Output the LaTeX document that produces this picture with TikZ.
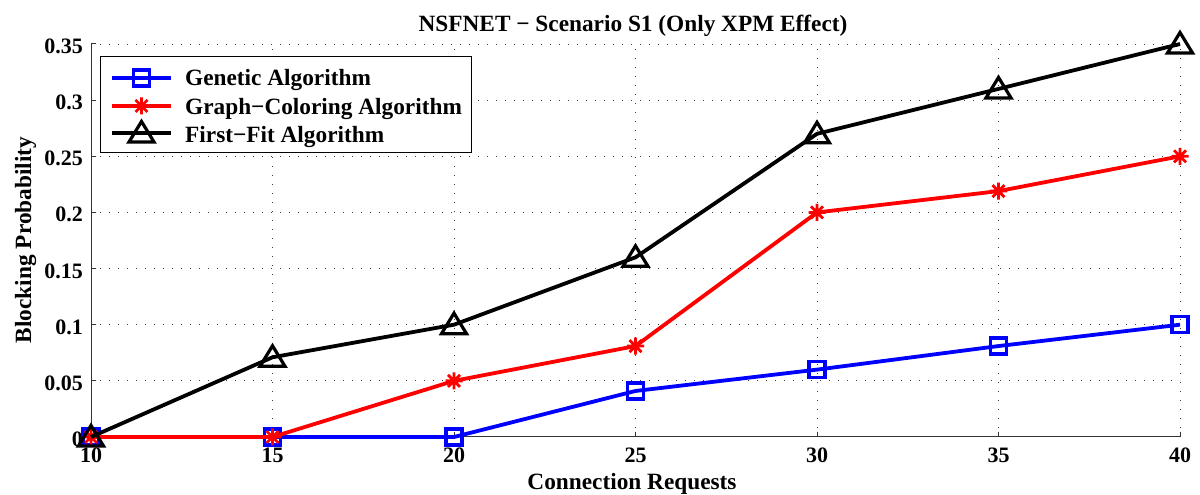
\documentclass[tikz,border=0pt]{standalone}
\usepackage{fontspec}
\setmainfont{Liberation Serif}
\begin{document}
\begin{tikzpicture}[x=1pt,y=1pt,
  lbl/.style={font=\fontsize{23.3}{23.3}\selectfont\bfseries, inner sep=0pt},
  ticklbl/.style={font=\fontsize{22}{22}\selectfont\bfseries, inner sep=0pt},
  gridline/.style={black!75, line width=0.9pt, dash pattern=on 1pt off 8pt},
  axisline/.style={black!80, line width=1pt},
  curve/.style={line width=3.8pt, line join=round},
  sqmark/.pic={\draw[blue, line width=3.2pt, fill=none] (-8pt,-8pt) rectangle (8pt,8pt);},
  astmark/.pic={\draw[red, line width=2.8pt] (-8.5pt,0pt) -- (8.5pt,0pt) (0pt,-8.5pt) -- (0pt,8.5pt)
      (-6pt,-6pt) -- (6pt,6pt) (-6pt,6pt) -- (6pt,-6pt);},
  trimark/.pic={\draw[black, line width=3.2pt, line join=miter] (-12.5pt,-9pt) -- (12.5pt,-9pt) -- (0pt,11.5pt) -- cycle;}
]
\useasboundingbox (0,0) rectangle (1200,495);
\begin{scope}[x=36.3pt, y=1122.86pt, xshift=-272pt, yshift=58pt]
  % grid
  \foreach \v in {15,20,...,40} \draw[gridline] (\v,0) -- (\v,0.35);
  \foreach \p in {0.05,0.1,...,0.36} \draw[gridline] (10,\p) -- (40,\p);
  % axes
  \coordinate (o) at (10,0);
  \coordinate (xe) at (40,0);
  \coordinate (ye) at (10,0.35);
  \draw[axisline] (ye) -- (o) -- (xe);
  \foreach \v in {15,20,...,40} \draw[axisline] (\v,0) -- ++(0,5pt);
  \foreach \p in {0.05,0.1,...,0.36} \draw[axisline] (10,\p) -- ++(5pt,0);
  % tick labels
  \foreach \v in {10,15,...,40} \node[ticklbl, anchor=base] (xt\v) at ([yshift=-26pt]\v,0) {\v};
  \foreach \p/\t in {0/0,0.05/0.05,0.1/0.1,0.15/0.15,0.2/0.2,0.25/0.25,0.3/0.3,0.35/0.35}
    \node[ticklbl, anchor=base east] at ([xshift=-8pt,yshift=-9.5pt]10,\p) {\t};
  % data coordinates
  \foreach \i/\v/\a/\b/\c in {1/10/0/0/0, 2/15/0/0/0.071, 3/20/0/0.05/0.1, 4/25/0.041/0.081/0.16,
      5/30/0.06/0.2/0.27, 6/35/0.081/0.219/0.31, 7/40/0.1/0.25/0.35} {
    \coordinate (ga\i) at (\v,\a);
    \coordinate (gc\i) at (\v,\b);
    \coordinate (ff\i) at (\v,\c);
  }
  % genetic
  \draw[blue, curve] (ga1) -- (ga2) -- (ga3) -- (ga4) -- (ga5) -- (ga6) -- (ga7);
  \foreach \i in {1,...,7} \pic at (ga\i) {sqmark};
  % graph coloring
  \draw[red, curve] (gc1) -- (gc2) -- (gc3) -- (gc4) -- (gc5) -- (gc6) -- (gc7);
  \foreach \i in {1,...,7} \pic at (gc\i) {astmark};
  % first fit
  \draw[black, curve] (ff1) -- (ff2) -- (ff3) -- (ff4) -- (ff5) -- (ff6) -- (ff7);
  \foreach \i in {1,...,7} \pic at (ff\i) {trimark};
\end{scope}
% title and axis labels
\node[lbl, anchor=base] (title) at (633,463) {NSFNET − Scenario S1 (Only XPM Effect)};
\node[lbl, anchor=base] (xlab) at (632,5) {Connection Requests};
\node[lbl, anchor=base, rotate=90] (ylab) at (31,255) {Blocking Probability};
% legend
\node[draw=black, line width=1.2pt, fill=white, minimum width=371pt, minimum height=96pt,
  inner sep=0pt, anchor=south west] (legend) at (100,342) {};
\foreach \k/\yy/\ty/\txt in {1/417/409/Genetic Algorithm, 2/389/380/Graph−Coloring Algorithm, 3/362/352/First−Fit Algorithm} {
  \coordinate (la\k) at (112,\yy);
  \coordinate (lb\k) at (171,\yy);
  \coordinate (lm\k) at (141.5,\yy);
  \node[lbl, anchor=base west] (lt\k) at (185,\ty) {\txt};
}
\draw[blue, curve] (la1) -- (lb1); \pic at (lm1) {sqmark};
\draw[red, curve] (la2) -- (lb2); \pic at (lm2) {astmark};
\draw[black, curve] (la3) -- (lb3); \pic at (lm3) {trimark};
\end{tikzpicture}
\end{document}
